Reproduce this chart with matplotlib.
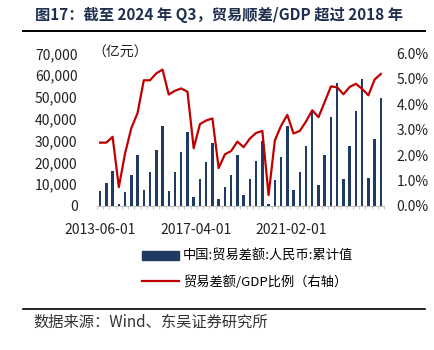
import numpy as np
import pandas as pd
import matplotlib
matplotlib.use('Agg')
import matplotlib.pyplot as plt
from matplotlib.lines import Line2D
from matplotlib.patches import Patch
from matplotlib.ticker import FuncFormatter

plt.rcParams['font.family'] = ['Noto Sans CJK SC', 'DejaVu Sans']

# quarterly data, 2013Q2 .. 2024Q3
quarters = pd.date_range('2013-06-01', '2024-09-01', freq='3MS')
trade_balance = [6750, 10700, 16200,
                 1100, 6400, 14400, 23600,
                 7500, 15800, 25900, 36900,
                 7000, 15600, 24800, 33700,
                 4300, 12600, 20100, 28800,
                 3000, 8900, 14200, 23400,
                 5200, 12200, 20400, 29600,
                 900, 11900, 22500, 36700,
                 7200, 15800, 27600, 43200,
                 9500, 23600, 41000, 56500,
                 12600, 27700, 43600, 58000,
                 12900, 30600, 49300]
ratio = [2.49, 2.49, 2.72,
         0.74, 2.07, 3.06, 3.65,
         4.94, 4.94, 5.21, 5.36,
         4.38, 4.53, 4.62, 4.49,
         2.27, 3.22, 3.36, 3.44,
         1.49, 2.03, 2.16, 2.53,
         2.31, 2.65, 2.87, 2.95,
         0.43, 2.57, 3.15, 3.58,
         2.85, 2.95, 3.32, 3.76,
         3.49, 4.09, 4.70, 4.66,
         4.39, 4.68, 4.80, 4.60,
         4.35, 4.97, 5.19]
tick_labels = ['2013-06-01', '2017-04-01', '2021-02-01']

bar_color = '#1f3a63'
line_color = '#c00000'


def pos(d):
    d = pd.Timestamp(d)
    return ((d.year - 2013) * 12 + d.month - 6) / 3.0


x = np.array([pos(d) for d in quarters])

fig = plt.figure(figsize=(4.35, 3.5), dpi=100)
ax = fig.add_axes([97 / 435, 1 - 206 / 350, 287 / 435, 152.7 / 350])
ax.bar(x, trade_balance, width=0.4, color=bar_color, zorder=2)
ax.set_ylim(0, 70000)
ax.set_xlim(-0.5, len(x) - 0.5)
ax.set_yticks(np.arange(0, 70001, 10000))
ax.yaxis.set_major_formatter(FuncFormatter(lambda v, p: f'{int(v):,}'))
ax.set_xticks([pos(t) for t in tick_labels])
ax.set_xticklabels(tick_labels)
ax.set_xticks(np.arange(-0.5, len(x), 1), minor=True)
ax.tick_params(axis='x', which='major', length=0, labelsize=10, pad=12, colors='#222222')
ax.tick_params(axis='x', which='minor', length=2, color='#bfbfbf')
ax.tick_params(axis='y', length=0, labelsize=10, colors='#222222', pad=14)
for s in ['top', 'right', 'left']:
    ax.spines[s].set_visible(False)
ax.spines['bottom'].set_color('#bfbfbf')

ax2 = ax.twinx()
ax2.plot(x, ratio, color=line_color, lw=1.6, zorder=3)
ax2.set_ylim(0, 6)
ax2.set_yticks(np.arange(0, 6.01, 1))
ax2.yaxis.set_major_formatter(FuncFormatter(lambda v, p: f'{v:.1f}%'))
ax2.tick_params(axis='y', length=0, labelsize=10, colors='#222222', pad=9)
for s in ['top', 'right', 'left', 'bottom']:
    ax2.spines[s].set_visible(False)

fig.text(92 / 435, 1 - 53 / 350, '（亿元）', fontsize=10, va='center', ha='left', color='#222222')

handles = [Patch(color=bar_color), Line2D([0], [0], color=line_color, lw=1.6)]
labels = ['中国:贸易差额:人民币:累计值', '贸易差额/GDP比例（右轴）']
fig.legend(handles, labels, loc='upper left', bbox_to_anchor=(130 / 435, 1 - 238 / 350),
           frameon=False, fontsize=9.5, handlelength=2.8, handleheight=0.6,
           handletextpad=0.3, labelspacing=0.9)

# title and source
fig.text(35 / 435, 1 - 15 / 350, '图17：截至 2024 年 Q3，贸易顺差/GDP 超过 2018 年',
         fontsize=11, fontweight='bold', color='#1f2f4f', va='center', ha='left')
fig.add_artist(Line2D([23 / 435, 425 / 435], [1 - 31 / 350] * 2, color='black', lw=1.4))
fig.add_artist(Line2D([23 / 435, 425 / 435], [1 - 309 / 350] * 2, color='black', lw=1.2))
fig.text(33 / 435, 1 - 322 / 350, '数据来源：Wind、东吴证券研究所',
         fontsize=11, color='#333333', va='center', ha='left')

fig.savefig('out.png', dpi=100)
